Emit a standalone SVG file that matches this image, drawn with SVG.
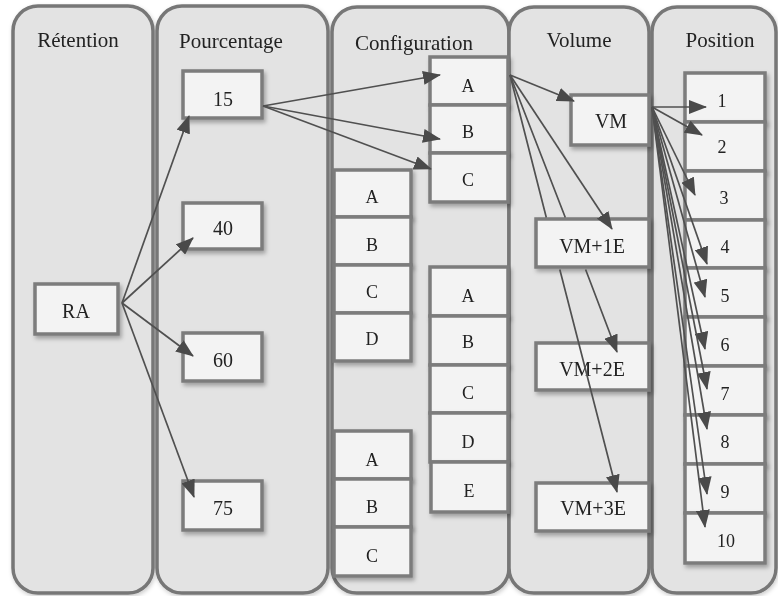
<svg xmlns="http://www.w3.org/2000/svg" width="778" height="596" viewBox="0 0 778 596">
<defs>
<style>
.panel{fill:#e3e3e3;stroke:#777;stroke-width:3.5}
.box{fill:#f3f3f3;stroke:#7c7c7c;stroke-width:3.5}
.title{font-family:"Liberation Serif","Times New Roman",serif;font-size:21px;fill:#222;text-anchor:middle}
.lbl{font-family:"Liberation Serif","Times New Roman",serif;font-size:20px;fill:#222;text-anchor:middle}
.sm{font-family:"Liberation Serif","Times New Roman",serif;font-size:18px;fill:#222;text-anchor:middle}
.cn{fill:none;stroke:#505050;stroke-width:1.7;marker-end:url(#ah)}
</style>
<marker id="ah" markerWidth="18" markerHeight="14" refX="17" refY="7" orient="auto" markerUnits="userSpaceOnUse">
<path d="M0,0 L18,7 L0,14 z" fill="#4a4a4a"/>
</marker>
<filter id="sh" x="-20%" y="-20%" width="150%" height="150%">
<feDropShadow dx="2" dy="3" stdDeviation="2" flood-color="#000" flood-opacity="0.3"/>
</filter>
<filter id="psh" x="-10%" y="-5%" width="120%" height="110%">
<feDropShadow dx="1" dy="2" stdDeviation="2" flood-color="#000" flood-opacity="0.2"/>
</filter>
</defs>
<rect width="778" height="596" fill="#fff"/>

<g id="panels" filter="url(#psh)">
<g id="col-retention"><rect class="panel" x="13" y="6" width="140" height="587" rx="25"/><text class="title" x="78" y="47">Rétention</text></g>
<g id="col-pourcentage"><rect class="panel" x="157" y="6" width="171" height="587" rx="25"/><text class="title" x="231" y="48">Pourcentage</text></g>
<g id="col-configuration"><rect class="panel" x="332" y="7" width="177" height="586" rx="25"/><text class="title" x="414" y="50">Configuration</text></g>
<g id="col-volume"><rect class="panel" x="509" y="7" width="140" height="586" rx="25"/><text class="title" x="579" y="47">Volume</text></g>
<g id="col-position"><rect class="panel" x="652" y="7" width="124" height="586" rx="25"/><text class="title" x="720" y="47">Position</text></g>
</g>

<g id="n-RA" filter="url(#sh)"><rect class="box" x="35" y="284" width="83" height="50"/><text class="lbl" x="76" y="318">RA</text></g>
<g id="n-15" filter="url(#sh)"><rect class="box" x="183" y="71" width="79" height="47"/><text class="lbl" x="223" y="106">15</text></g>
<g id="n-40" filter="url(#sh)"><rect class="box" x="183" y="203" width="79" height="46"/><text class="lbl" x="223" y="235">40</text></g>
<g id="n-60" filter="url(#sh)"><rect class="box" x="183" y="333" width="79" height="48"/><text class="lbl" x="223" y="367">60</text></g>
<g id="n-75" filter="url(#sh)"><rect class="box" x="183" y="481" width="79" height="49"/><text class="lbl" x="223" y="515">75</text></g>

<g id="n-cfg1-A" filter="url(#sh)"><rect class="box" x="430" y="57" width="78" height="48"/><text class="sm" x="468" y="92">A</text></g>
<g id="n-cfg1-B" filter="url(#sh)"><rect class="box" x="430" y="105" width="78" height="48"/><text class="sm" x="468" y="138">B</text></g>
<g id="n-cfg1-C" filter="url(#sh)"><rect class="box" x="430" y="153" width="78" height="49"/><text class="sm" x="468" y="186">C</text></g>

<g id="n-cfg2-A" filter="url(#sh)"><rect class="box" x="334" y="170" width="77" height="47"/><text class="sm" x="372" y="203">A</text></g>
<g id="n-cfg2-B" filter="url(#sh)"><rect class="box" x="334" y="217" width="77" height="48"/><text class="sm" x="372" y="251">B</text></g>
<g id="n-cfg2-C" filter="url(#sh)"><rect class="box" x="334" y="265" width="77" height="48"/><text class="sm" x="372" y="298">C</text></g>
<g id="n-cfg2-D" filter="url(#sh)"><rect class="box" x="334" y="313" width="77" height="48"/><text class="sm" x="372" y="345">D</text></g>

<g id="n-cfg3-A" filter="url(#sh)"><rect class="box" x="430" y="267" width="78" height="49"/><text class="sm" x="468" y="302">A</text></g>
<g id="n-cfg3-B" filter="url(#sh)"><rect class="box" x="430" y="316" width="78" height="49"/><text class="sm" x="468" y="348">B</text></g>
<g id="n-cfg3-C" filter="url(#sh)"><rect class="box" x="430" y="365" width="78" height="48"/><text class="sm" x="468" y="399">C</text></g>
<g id="n-cfg3-D" filter="url(#sh)"><rect class="box" x="430" y="413" width="78" height="49"/><text class="sm" x="468" y="448">D</text></g>
<g id="n-cfg3-E" filter="url(#sh)"><rect class="box" x="431" y="462" width="77" height="50"/><text class="sm" x="469" y="497">E</text></g>

<g id="n-cfg4-A" filter="url(#sh)"><rect class="box" x="334" y="431" width="77" height="48"/><text class="sm" x="372" y="466">A</text></g>
<g id="n-cfg4-B" filter="url(#sh)"><rect class="box" x="334" y="479" width="77" height="48"/><text class="sm" x="372" y="513">B</text></g>
<g id="n-cfg4-C" filter="url(#sh)"><rect class="box" x="334" y="527" width="77" height="49"/><text class="sm" x="372" y="562">C</text></g>

<g id="n-VM" filter="url(#sh)"><rect class="box" x="571" y="95" width="78" height="50"/><text class="lbl" x="611" y="128">VM</text></g>
<g id="n-VM1E" filter="url(#sh)"><rect class="box" x="536" y="219" width="113" height="48"/><text class="lbl" x="592" y="253">VM+1E</text></g>
<g id="n-VM2E" filter="url(#sh)"><rect class="box" x="536" y="343" width="113" height="47"/><text class="lbl" x="592" y="376">VM+2E</text></g>
<g id="n-VM3E" filter="url(#sh)"><rect class="box" x="536" y="483" width="113" height="48"/><text class="lbl" x="593" y="515">VM+3E</text></g>

<g id="n-pos1" filter="url(#sh)"><rect class="box" x="685" y="73" width="80" height="49"/><text class="sm" x="722" y="107">1</text></g>
<g id="n-pos2" filter="url(#sh)"><rect class="box" x="685" y="122" width="80" height="49"/><text class="sm" x="722" y="153">2</text></g>
<g id="n-pos3" filter="url(#sh)"><rect class="box" x="685" y="171" width="80" height="49"/><text class="sm" x="724" y="204">3</text></g>
<g id="n-pos4" filter="url(#sh)"><rect class="box" x="685" y="220" width="80" height="48"/><text class="sm" x="725" y="253">4</text></g>
<g id="n-pos5" filter="url(#sh)"><rect class="box" x="685" y="268" width="80" height="49"/><text class="sm" x="725" y="302">5</text></g>
<g id="n-pos6" filter="url(#sh)"><rect class="box" x="685" y="317" width="80" height="49"/><text class="sm" x="725" y="351">6</text></g>
<g id="n-pos7" filter="url(#sh)"><rect class="box" x="685" y="366" width="80" height="49"/><text class="sm" x="725" y="400">7</text></g>
<g id="n-pos8" filter="url(#sh)"><rect class="box" x="685" y="415" width="80" height="49"/><text class="sm" x="725" y="448">8</text></g>
<g id="n-pos9" filter="url(#sh)"><rect class="box" x="685" y="464" width="80" height="49"/><text class="sm" x="725" y="498">9</text></g>
<g id="n-pos10" filter="url(#sh)"><rect class="box" x="685" y="513" width="80" height="50"/><text class="sm" x="726" y="547">10</text></g>

<g id="connectors">
<path class="cn" d="M122,303 L189,116"/>
<path class="cn" d="M122,303 L193,238"/>
<path class="cn" d="M122,303 L193,356"/>
<path class="cn" d="M122,303 L194,497"/>
<path class="cn" d="M263,106 L440,75"/>
<path class="cn" d="M263,106 L440,139"/>
<path class="cn" d="M263,106 L431,169"/>
<path class="cn" d="M510,75 L574,101"/>
<path class="cn" d="M510,75 L612,229"/>
<path class="cn" d="M510,75 L565.3,217.5 M585.6,269.5 L617,352"/>
<path class="cn" d="M510,75 L546.3,217.5 M559.8,269.5 L617,492"/>
<path class="cn" d="M652,107 L706,107"/>
<path class="cn" d="M652,107 L702,135"/>
<path class="cn" d="M652,107 L695,195"/>
<path class="cn" d="M652,107 L707,264"/>
<path class="cn" d="M652,107 L705,297"/>
<path class="cn" d="M652,107 L705,349"/>
<path class="cn" d="M652,107 L707,389"/>
<path class="cn" d="M652,107 L707,429"/>
<path class="cn" d="M652,107 L707,494"/>
<path class="cn" d="M652,107 L705,527"/>
</g>
</svg>
